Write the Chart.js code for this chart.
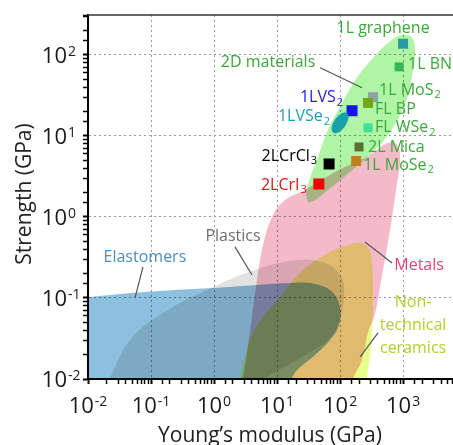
<!DOCTYPE html>
<html>
<head>
<meta charset="utf-8">
<script src="https://cdn.jsdelivr.net/npm/chart.js@4.4.0/dist/chart.umd.min.js"></script>
<style>
  html, body { margin: 0; padding: 0; background: #fff; }
  #wrap { width: 453px; height: 445px; }
</style>
</head>
<body>
<div id="wrap"><canvas id="ashby" width="453" height="445"></canvas></div>
<script>
// Region outlines: Young's modulus E (GPa) and strength S (GPa), traced round each blob
const elastomersE = [0.00001, 0.00001, 0.0008, 0.0865, 1.79, 16.1, 40.1, 74.6, 100, 96.4, 69.3, 40.1, 20.8, 11.2, 0.00001];
const elastomersS = [0.0055, 0.0797, 0.0867, 0.119, 0.137, 0.153, 0.149, 0.119, 0.0754, 0.0464, 0.0303, 0.0198, 0.0129, 0.0073, 0.0055];

const plasticsE = [0.0129, 0.0223, 0.0464, 0.155, 0.964, 4.48, 20.8, 57.8, 100, 116, 100, 69.3, 23.2, 6.45, 1.79, 0.0129];
const plasticsS = [0.0055, 0.0106, 0.0303, 0.0653, 0.137, 0.222, 0.294, 0.270, 0.192, 0.119, 0.0566, 0.0321, 0.0182, 0.0103, 0.0055, 0.0055];

const metalsE = [2.15, 2.89, 3.73, 4.82, 6.00, 8.65, 13.4, 27.8, 83.3, 268, 578, 803, 896, 774, 622, 431, 360, 278, 223, 161, 144, 2.15];
const metalsS = [0.0055, 0.0106, 0.0403, 0.167, 0.451, 1.06, 1.62, 2.15, 3.59, 5.51, 8.20, 7.74, 5.06, 2.15, 0.692, 0.137, 0.0653, 0.037, 0.0172, 0.0100, 0.0055, 0.0055];

const ceramicsE = [2.24, 2.59, 3.10, 4.01, 5.78, 11.2, 25.9, 69.3, 134, 223, 289, 322, 334, 322, 299, 268, 259, 2.24];
const ceramicsS = [0.0055, 0.0103, 0.0187, 0.0349, 0.0566, 0.103, 0.222, 0.370, 0.451, 0.478, 0.392, 0.270, 0.103, 0.0403, 0.0198, 0.0100, 0.0055, 0.0055];

const twoDE = [31.0, 28.9, 33.4, 43.1, 62.2, 100, 186, 360, 669, 1038, 1390, 1549, 1442, 1200, 896, 578, 322, 144, 64.5, 38.7, 31.0];
const twoDS = [1.49, 2.04, 3.03, 5.06, 11.2, 22.8, 52.0, 97.2, 153, 177, 162, 115, 65.3, 32.1, 18.2, 10.3, 6.17, 3.59, 2.15, 1.58, 1.49];

// Individual 2D samples
const sampleNames = ['1L graphene', '1L BN', '1L MoS_2', 'FL BP', '1LVS_2', '1LVSe_2', 'FL WSe_2', '2L Mica', '1L MoSe_2', '2LCrCl_3', '2LCrI_3'];
const sampleE = [1000, 865, 334, 278, 155, 100, 278, 200, 180, 67, 46];
const sampleS = [137, 71, 30, 25.5, 20.4, 14.5, 12.6, 7.3, 4.9, 4.5, 2.55];

// tick labels (powers of ten)
const xTickExps = [-2, -1, 0, 1, 2, 3];
const yTickExps = [-2, -1, 0, 1, 2];

// ---- styles ----
const FONT = '"Open Sans", "Noto Sans", sans-serif';
const sampleColors = ['#2a9aa4', '#33b85a', '#8fa3a3', '#6eaa14', '#1414f0', '#15a0aa', '#3de196', '#5a7232', '#bd821e', '#000000', '#f00000'];
const sampleSides = [10, 9, 10, 10, 11, 13, 9, 9, 10, 11, 11];
const labelGreen = '#3aa83a';
const sampleLabelStyle = [
  // dx, dy, align, color
  [-20, -15, 'center', labelGreen],
  [9, -2, 'left', labelGreen],
  [6, -7, 'left', labelGreen],
  [7, 7, 'left', labelGreen],
  [-9, -13, 'right', '#2020e0'],
  [-10, -6, 'right', '#1e9fab'],
  [7, 0, 'left', labelGreen],
  [9, 0, 'left', labelGreen],
  [7, 4, 'left', labelGreen],
  [-12, -8, 'right', '#000000'],
  [-12, 1, 'right', '#e81414']
];
const regionLabels = [
  { text: ['2D materials'], x: 7.2, y: 79.6, color: labelGreen },
  { text: ['Plastics'], x: 2.0, y: 0.582, color: '#6e6e6e' },
  { text: ['Elastomers'], x: 0.080, y: 0.312, color: '#4a8fbf' },
  { text: ['Metals'], x: 1795, y: 0.255, color: '#e0457f' },
  { text: ['Non-', 'technical', 'ceramics'], x: 1442, y: 0.0464, color: '#b5cf2a' }
];
const leaders = [
  [48.2, 69.2, 223, 39.2],
  [2.15, 0.427, 4.01, 0.192],
  [0.0746, 0.242, 0.0557, 0.1],
  [249, 0.491, 669, 0.270],
  [401, 0.037, 208, 0.0187]
];

function outline(E, S) {
  return E.map((e, i) => ({ x: e, y: S[i] }));
}

function region(label, E, S, color) {
  return {
    label, type: 'line', data: outline(E, S), order: 1,
    backgroundColor: color, borderColor: 'transparent', borderWidth: 0,
    fill: 'shape', tension: 0.4, capBezierPoints: false, pointRadius: 0
  };
}

function ellipseMarker(major, minor, angle, color) {
  const c = document.createElement('canvas');
  c.width = c.height = major + 4;
  const g = c.getContext('2d');
  g.translate(c.width / 2, c.height / 2);
  g.rotate(angle * Math.PI / 180);
  g.beginPath();
  g.ellipse(0, 0, major / 2, minor / 2, 0, 0, 2 * Math.PI);
  g.fillStyle = color;
  g.fill();
  return c;
}

const markerStyles = sampleNames.map((n, i) => n === '1LVSe_2' ? ellipseMarker(24, 12, -55, sampleColors[i]) : 'rect');

function drawRich(ctx, text, x, y, align, color, size) {
  const parts = text.split('_');
  const subSize = Math.round(size * 0.68);
  ctx.font = `${size}px ${FONT}`;
  const w1 = ctx.measureText(parts[0]).width;
  let w2 = 0;
  if (parts[1]) {
    ctx.font = `${subSize}px ${FONT}`;
    w2 = ctx.measureText(parts[1]).width + 1;
  }
  const x0 = align === 'right' ? x - w1 - w2 : align === 'center' ? x - (w1 + w2) / 2 : x;
  ctx.fillStyle = color;
  ctx.textAlign = 'left';
  ctx.textBaseline = 'middle';
  ctx.font = `${size}px ${FONT}`;
  ctx.fillText(parts[0], x0, y);
  if (parts[1]) {
    ctx.font = `${subSize}px ${FONT}`;
    ctx.fillText(parts[1], x0 + w1 + 1, y + size * 0.32);
  }
}

function drawPow(ctx, exp, x, baseline, mode) {
  const expText = exp < 0 ? '-' + Math.abs(exp) : String(exp);
  ctx.fillStyle = '#1a1a1a';
  ctx.textBaseline = 'alphabetic';
  ctx.textAlign = 'left';
  ctx.font = `22px ${FONT}`;
  const w10 = ctx.measureText('10').width;
  ctx.font = `14px ${FONT}`;
  const wExp = ctx.measureText(expText).width;
  const x0 = mode === 'y' ? x - w10 : x - (w10 + 1 + wExp) / 2;
  ctx.font = `22px ${FONT}`;
  ctx.fillText('10', x0, baseline);
  ctx.font = `14px ${FONT}`;
  ctx.fillText(expText, x0 + w10 + 1, baseline - 7);
}

const isDecade = v => Math.abs(Math.log10(v) - Math.round(Math.log10(v))) < 1e-6;

// regions are laid over each other like transparent inks (multiply);
// the sample markers on top are painted normally
const blendPlugin = {
  id: 'blend',
  beforeDraw(chart) {
    const ctx = chart.ctx;
    ctx.save();
    ctx.fillStyle = '#fff';
    ctx.fillRect(0, 0, chart.width, chart.height);
    ctx.restore();
  },
  beforeDatasetsDraw(chart) {
    chart.ctx.save();
    chart.ctx.globalCompositeOperation = 'multiply';
  },
  beforeDatasetDraw(chart, args) {
    if (args.meta.type === 'scatter') chart.ctx.globalCompositeOperation = 'source-over';
  },
  afterDatasetsDraw(chart) {
    chart.ctx.restore();
  },
  afterDraw(chart) {
    const ctx = chart.ctx;
    const xs = chart.scales.x, ys = chart.scales.y;
    const area = chart.chartArea;
    ctx.save();
    // top frame
    ctx.strokeStyle = '#333';
    ctx.lineWidth = 1.5;
    ctx.beginPath();
    ctx.moveTo(area.left, area.top);
    ctx.lineTo(area.right, area.top);
    ctx.stroke();
    // leader lines
    ctx.strokeStyle = '#555';
    ctx.lineWidth = 1.2;
    leaders.forEach(l => {
      ctx.beginPath();
      ctx.moveTo(xs.getPixelForValue(l[0]), ys.getPixelForValue(l[1]));
      ctx.lineTo(xs.getPixelForValue(l[2]), ys.getPixelForValue(l[3]));
      ctx.stroke();
    });
    // region labels
    regionLabels.forEach(r => {
      const px = xs.getPixelForValue(r.x), py = ys.getPixelForValue(r.y);
      r.text.forEach((t, k) => drawRich(ctx, t, px, py + (k - (r.text.length - 1) / 2) * 23, 'center', r.color, 16));
    });
    // sample labels
    sampleNames.forEach((n, i) => {
      const s = sampleLabelStyle[i];
      const px = xs.getPixelForValue(sampleE[i]), py = ys.getPixelForValue(sampleS[i]);
      drawRich(ctx, n, px + s[0], py + s[1], s[2], s[3], 16);
    });
    // tick labels
    xTickExps.forEach(e => drawPow(ctx, e, xs.getPixelForValue(Math.pow(10, e)), 413, 'x'));
    yTickExps.forEach(e => drawPow(ctx, e, area.left - 21, ys.getPixelForValue(Math.pow(10, e)) + 8, 'y'));
    // axis titles
    ctx.fillStyle = '#222';
    ctx.font = `21px ${FONT}`;
    ctx.textAlign = 'center';
    ctx.textBaseline = 'alphabetic';
    ctx.fillText('Young\u2019s modulus (GPa)', 270, 442);
    ctx.translate(31, 194);
    ctx.rotate(-Math.PI / 2);
    ctx.fillText('Strength (GPa)', 0, 0);
    ctx.restore();
  }
};

const axisCommon = {
  type: 'logarithmic',
  ticks: { display: false },
  border: { display: true, color: '#000', width: 2, dash: [2, 3] },
  grid: {
    color: ctx => (ctx.tick && isDecade(ctx.tick.value) ? '#999' : 'transparent'),
    lineWidth: 1,
    drawTicks: true,
    tickLength: 5,
    tickColor: '#000',
    tickWidth: ctx => (ctx.tick && isDecade(ctx.tick.value) ? 2 : 1.5)
  },
  title: { display: false }
};

new Chart(document.getElementById('ashby'), {
  type: 'scatter',
  data: {
    datasets: [
      {
        label: 'samples', type: 'scatter', order: 0,
        data: outline(sampleE, sampleS),
        pointStyle: markerStyles,
        pointRadius: sampleSides.map(s => s / Math.SQRT2),
        pointBackgroundColor: sampleColors,
        pointBorderWidth: 0
      },
      region('2D materials', twoDE, twoDS, 'rgb(175,245,165)'),
      region('Elastomers', elastomersE, elastomersS, 'rgb(140,192,222)'),
      region('Plastics', plasticsE, plasticsS, 'rgb(226,226,226)'),
      region('Non-technical ceramics', ceramicsE, ceramicsS, 'rgb(232,255,140)'),
      region('Metals', metalsE, metalsS, 'rgb(245,186,202)')
    ]
  },
  options: {
    responsive: false,
    animation: false,
    layout: { autoPadding: false, padding: { left: 83, top: 15, right: 0, bottom: 61 } },
    plugins: { legend: { display: false }, tooltip: { enabled: false } },
    scales: {
      x: { ...axisCommon, min: 0.01, max: 6200 },
      y: { ...axisCommon, min: 0.01, max: 310 }
    }
  },
  plugins: [blendPlugin]
});
</script>
</body>
</html>
